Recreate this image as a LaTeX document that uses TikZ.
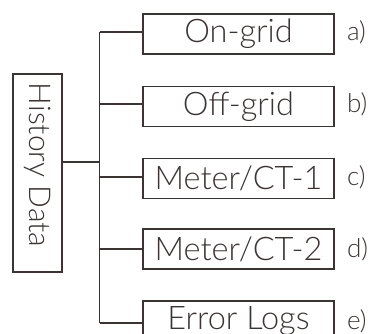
\documentclass[tikz,border=0pt]{standalone}
\usepackage{fontspec}
\setmainfont{Lato}[UprightFont=* Light]
\usetikzlibrary{positioning}
\definecolor{ink}{HTML}{3A3432}

\tikzset{
  item/.style={draw=ink,line width=1.6pt,minimum width=191pt,minimum height=40pt,
    inner sep=0pt,text=ink,font=\fontsize{32.5}{34}\selectfont},
  tag/.style={inner sep=0pt,text=ink,font=\fontsize{26}{28}\selectfont},
  link/.style={draw=ink,line width=1.6pt}
}

\begin{document}
\begin{tikzpicture}[x=1pt,y=-1pt]
\clip (0,0) rectangle (373,334);
\useasboundingbox (0,0) rectangle (373,334);
% root box, text read top to bottom
\node[item,rotate=-90,minimum width=198pt,minimum height=49pt,font=\fontsize{30}{32}\selectfont]
  (hist) at (37.5,173) {History Data\hspace*{16pt}};
% the five boxes
\node[item] (on)  at (238.5,34)    {On-grid};
\node[item] (off) at (238.5,106.5) {Off-grid};
\node[item] (ct1) at (238.5,178.5) {Meter/CT-1};
\node[item] (ct2) at (238.5,249)   {Meter/CT-2};
\node[item] (err) at (238.5,321)   {Error Logs};
% letters
\node[tag,right=12pt of on,yshift=2pt]  (la) {a)};
\node[tag,right=12pt of off,yshift=2pt] (lb) {b)};
\node[tag,right=12pt of ct1,yshift=1pt] (lc) {c)};
\node[tag,right=12pt of ct2]            (ld) {d)};
\node[tag,right=12pt of err]            (le) {e)};
% tree lines
\coordinate (hub) at (99.5,162);
\coordinate (top) at (99.5,32);
\coordinate (bot) at (99.5,323);
\draw[link] (hub -| hist.north) -- (hub);
\draw[link] (top) -- (bot);
\foreach \b/\y in {on/32,off/104,ct1/177,ct2/249,err/323}{
  \coordinate (b\b) at (99.5,\y);
  \draw[link] (b\b) -- (b\b -| \b.west);
}
\end{tikzpicture}
\end{document}
